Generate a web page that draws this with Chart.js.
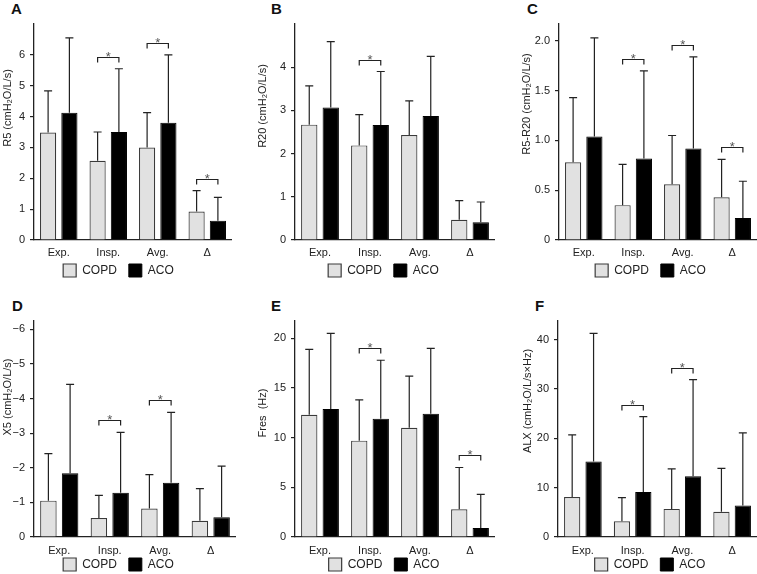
<!DOCTYPE html>
<html>
<head>
<meta charset="utf-8">
<script src="https://cdn.jsdelivr.net/npm/chart.js@4.4.1/dist/chart.umd.min.js"></script>
<style>
  html, body { margin: 0; padding: 0; background: #fff; }
  body { position: relative; width: 757px; height: 574px; overflow: hidden; font-family: "Liberation Sans", Arial, sans-serif; }
  canvas { position: absolute; }
  .tag { position: absolute; font-size: 15px; line-height: 15px; font-weight: bold; color: #111; }
</style>
</head>
<body>
<script>
// shared
const categories = ['Exp.', 'Insp.', 'Avg.', 'Δ'];
const seriesNames = ['COPD', 'ACO'];

// A: R5
const r5Copd = [3.48, 2.57, 3.00, 0.92];
const r5CopdSd = [1.35, 0.93, 1.13, 0.68];
const r5Aco = [4.12, 3.50, 3.80, 0.62];
const r5AcoSd = [2.43, 2.05, 2.20, 0.76];
const r5Sig = [false, true, true, true];
const r5Ticks = [0, 1, 2, 3, 4, 5, 6];
const r5TickLabels = ['0', '1', '2', '3', '4', '5', '6'];

// B: R20
const r20Copd = [2.67, 2.19, 2.43, 0.47];
const r20CopdSd = [0.90, 0.71, 0.79, 0.44];
const r20Aco = [3.07, 2.66, 2.87, 0.41];
const r20AcoSd = [1.52, 1.24, 1.38, 0.47];
const r20Sig = [false, true, false, false];
const r20Ticks = [0, 1, 2, 3, 4];
const r20TickLabels = ['0', '1', '2', '3', '4'];

// C: R5-R20
const diffCopd = [0.78, 0.35, 0.56, 0.43];
const diffCopdSd = [0.65, 0.41, 0.49, 0.38];
const diffAco = [1.04, 0.82, 0.92, 0.22];
const diffAcoSd = [0.99, 0.88, 0.92, 0.37];
const diffSig = [false, true, true, true];
const diffTicks = [0, 0.5, 1, 1.5, 2];
const diffTickLabels = ['0', '0.5', '1.0', '1.5', '2.0'];

// D: X5 (negative values, axis drawn upside down)
const x5Copd = [-1.05, -0.55, -0.82, -0.47];
const x5CopdSd = [1.36, 0.65, 0.98, 0.93];
const x5Aco = [-1.84, -1.28, -1.57, -0.57];
const x5AcoSd = [2.57, 1.74, 2.03, 1.48];
const x5Sig = [false, true, true, false];
const x5Ticks = [0, -1, -2, -3, -4, -5, -6];
const x5TickLabels = ['0', '−1', '−2', '−3', '−4', '−5', '−6'];

// E: Fres
const fresCopd = [12.3, 9.7, 11.0, 2.8];
const fresCopdSd = [6.6, 4.1, 5.2, 4.2];
const fresAco = [12.9, 11.9, 12.4, 0.9];
const fresAcoSd = [7.6, 5.9, 6.6, 3.4];
const fresSig = [false, true, false, true];
const fresTicks = [0, 5, 10, 15, 20];
const fresTickLabels = ['0', '5', '10', '15', '20'];

// F: ALX
const alxCopd = [8.1, 3.2, 5.7, 5.1];
const alxCopdSd = [12.6, 4.8, 8.1, 8.8];
const alxAco = [15.3, 9.1, 12.3, 6.4];
const alxAcoSd = [26.0, 15.3, 19.6, 14.7];
const alxSig = [false, true, true, false];
const alxTicks = [0, 10, 20, 30, 40];
const alxTickLabels = ['0', '10', '20', '30', '40'];

// panel layout (positions only)
const row1 = { top: 0, height: 295, padTop: 24, xH: 20, tickPad: 6, legendDy: -8, tagY: 1 };
const row2 = { top: 290, height: 302, padTop: 31, xH: 20, tickPad: 7, legendDy: -11, tagY: 298 };

const panels = [
  { tag: 'A', title: 'R5 (cmH₂O/L/s)', copd: r5Copd, copdSd: r5CopdSd, aco: r5Aco, acoSd: r5AcoSd,
    sig: r5Sig, ticks: r5Ticks, tickLabels: r5TickLabels, min: 0, max: 7,
    row: row1, left: 0, width: 232, axisW: 34, legendDx: 2.5, titleY: 108, tagX: 11 },
  { tag: 'B', title: 'R20 (cmH₂O/L/s)', copd: r20Copd, copdSd: r20CopdSd, aco: r20Aco, acoSd: r20AcoSd,
    sig: r20Sig, ticks: r20Ticks, tickLabels: r20TickLabels, min: 0, max: 5,
    row: row1, left: 255, width: 240, axisW: 40, legendDx: 8.5, titleY: 106, tagX: 271 },
  { tag: 'C', title: 'R5-R20 (cmH₂O/L/s)', copd: diffCopd, copdSd: diffCopdSd, aco: diffAco, acoSd: diffAcoSd,
    sig: diffSig, ticks: diffTicks, tickLabels: diffTickLabels, min: 0, max: 2.17,
    row: row1, left: 519, width: 238, axisW: 40, legendDx: 12.5, titleY: 104, tagX: 527 },
  { tag: 'D', title: 'X5 (cmH₂O/L/s)', copd: x5Copd, copdSd: x5CopdSd, aco: x5Aco, acoSd: x5AcoSd,
    sig: x5Sig, ticks: x5Ticks, tickLabels: x5TickLabels, min: -6.24, max: 0, reverse: true,
    row: row2, left: 0, width: 236, axisW: 34, legendDx: 0.5, titleY: 107, tagX: 12 },
  { tag: 'E', title: 'Fres  (Hz)', copd: fresCopd, copdSd: fresCopdSd, aco: fresAco, acoSd: fresAcoSd,
    sig: fresSig, ticks: fresTicks, tickLabels: fresTickLabels, min: 0, max: 21.75,
    row: row2, left: 255, width: 240, axisW: 40, legendDx: 9, titleY: 123, tagX: 271 },
  { tag: 'F', title: 'ALX (cmH₂O/L/s×Hz)', copd: alxCopd, copdSd: alxCopdSd, aco: alxAco, acoSd: alxAcoSd,
    sig: alxSig, ticks: alxTicks, tickLabels: alxTickLabels, min: 0, max: 43.8,
    row: row2, left: 520, width: 237, axisW: 38, legendDx: 11.5, titleY: 111, tagX: 535 }
];

const FONT = '"Liberation Sans", Arial, sans-serif';
const INK = '#222';

// SD whiskers (upper only) and significance brackets
const errorBars = {
  id: 'errorBars',
  afterDatasetsDraw(chart, args, opts) {
    const ctx = chart.ctx;
    const y = chart.scales.y;
    const ends = [];
    ctx.save();
    ctx.strokeStyle = INK;
    ctx.lineWidth = 1.2;
    chart.data.datasets.forEach((ds, i) => {
      ends[i] = chart.getDatasetMeta(i).data.map((bar, j) => {
        const v = ds.data[j];
        const end = y.getPixelForValue(v + Math.sign(v) * ds.sd[j]);
        ctx.beginPath();
        ctx.moveTo(bar.x, bar.y);
        ctx.lineTo(bar.x, end);
        ctx.moveTo(bar.x - 4, end);
        ctx.lineTo(bar.x + 4, end);
        ctx.stroke();
        return { x: bar.x, y: end };
      });
    });
    ctx.fillStyle = '#555';
    ctx.font = '13px ' + FONT;
    ctx.textAlign = 'center';
    ctx.textBaseline = 'alphabetic';
    (opts.sig || []).forEach((on, j) => {
      if (!on) return;
      const a = ends[0][j], b = ends[1][j];
      const yb = Math.round(Math.min(a.y, b.y) - 12) + 0.5;
      ctx.beginPath();
      ctx.moveTo(a.x, yb + 5);
      ctx.lineTo(a.x, yb);
      ctx.lineTo(b.x, yb);
      ctx.lineTo(b.x, yb + 5);
      ctx.stroke();
      ctx.fillText('*', (a.x + b.x) / 2, yb + 3);
    });
    ctx.restore();
  }
};

// rotated y-axis title
const yTitle = {
  id: 'yTitle',
  afterDraw(chart, args, opts) {
    const ctx = chart.ctx;
    ctx.save();
    ctx.translate(opts.x, opts.y);
    ctx.rotate(-Math.PI / 2);
    ctx.font = '11px ' + FONT;
    ctx.fillStyle = INK;
    ctx.textAlign = 'center';
    ctx.textBaseline = 'middle';
    ctx.fillText(opts.text, 0, 0);
    ctx.restore();
  }
};

// move the legend box after layout
const legendShift = {
  id: 'legendShift',
  afterLayout(chart, args, opts) {
    const lg = chart.legend;
    if (!lg) return;
    lg.left += opts.dx;
    lg.right += opts.dx;
    lg.top += opts.dy;
    lg.bottom += opts.dy;
  }
};

panels.forEach(p => {
  const tag = document.createElement('div');
  tag.className = 'tag';
  tag.textContent = p.tag;
  tag.style.left = p.tagX + 'px';
  tag.style.top = p.row.tagY + 'px';
  document.body.appendChild(tag);

  const canvas = document.createElement('canvas');
  canvas.width = p.width;
  canvas.height = p.row.height;
  canvas.style.left = p.left + 'px';
  canvas.style.top = p.row.top + 'px';
  document.body.appendChild(canvas);

  new Chart(canvas, {
    type: 'bar',
    data: {
      labels: categories,
      datasets: [{
        label: seriesNames[0],
        data: p.copd,
        sd: p.copdSd,
        backgroundColor: '#e1e1e1',
        borderColor: '#3a3a3a',
        borderWidth: 1.2,
        categoryPercentage: 0.86,
        barPercentage: 0.76
      }, {
        label: seriesNames[1],
        data: p.aco,
        sd: p.acoSd,
        backgroundColor: '#000',
        borderColor: '#000',
        borderWidth: 1,
        categoryPercentage: 0.86,
        barPercentage: 0.76
      }]
    },
    options: {
      responsive: false,
      animation: false,
      events: [],
      layout: { padding: { top: p.row.padTop, left: 0, right: 0, bottom: 0 } },
      scales: {
        x: {
          grid: { display: false, drawTicks: false },
          border: { color: INK, width: 1.3 },
          ticks: { color: INK, font: { family: FONT, size: 11 }, padding: p.row.tickPad, maxRotation: 0 },
          afterFit(s) { s.height = p.row.xH; }
        },
        y: {
          min: p.min,
          max: p.max,
          reverse: !!p.reverse,
          grid: { drawOnChartArea: false, drawTicks: true, tickLength: 4, color: INK, lineWidth: 1.2 },
          border: { color: INK, width: 1.3 },
          ticks: {
            color: INK,
            font: { family: FONT, size: 11 },
            padding: 5,
            callback: (v, i) => p.tickLabels[i]
          },
          afterBuildTicks(s) { s.ticks = p.ticks.map(v => ({ value: v })); },
          afterFit(s) { s.width = p.axisW; }
        }
      },
      plugins: {
        tooltip: { enabled: false },
        legend: {
          position: 'bottom',
          labels: {
            boxWidth: 13,
            boxHeight: 13,
            padding: 12,
            color: INK,
            font: { family: FONT, size: 12 }
          }
        },
        legendShift: { dx: p.legendDx, dy: p.row.legendDy },
        errorBars: { sig: p.sig },
        yTitle: { text: p.title, x: 8, y: p.titleY }
      }
    },
    plugins: [legendShift, errorBars, yTitle]
  });
});
</script>
</body>
</html>
